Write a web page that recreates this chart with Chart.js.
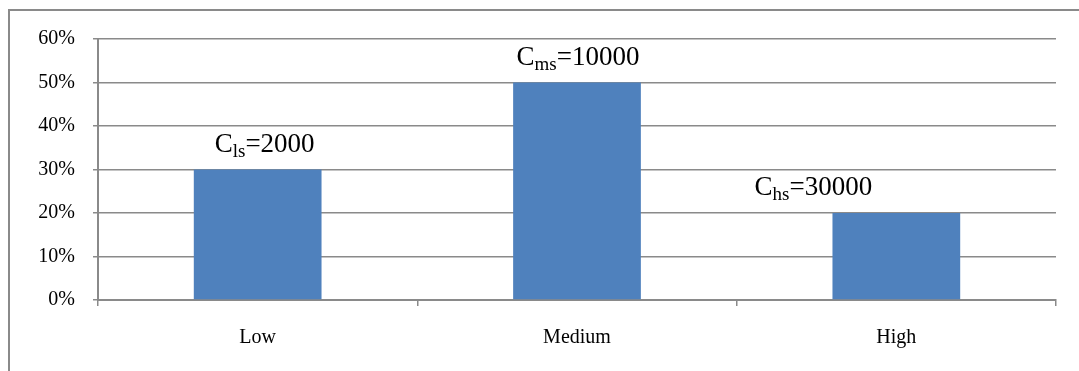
<!DOCTYPE html>
<html>
<head>
<meta charset="utf-8">
<script src="https://cdn.jsdelivr.net/npm/chart.js@4/dist/chart.umd.min.js"></script>
<style>
  body { margin: 0; background: #fff; overflow: hidden; }
  #cadre { position: absolute; left: 8px; top: 9px; width: 1200px; height: 500px; border: 2px solid #8a8a8a; }
  #graph { position: absolute; left: 0; top: 0; }
</style>
</head>
<body>
<div id="cadre"></div>
<canvas id="graph" width="1079" height="371"></canvas>
<script>
// donnees du graphique
const categories = ['Low', 'Medium', 'High'];
const valeurs = [0.30, 0.50, 0.20];
const etiquettes = [
    { sub: 'ls', val: '2000' },
    { sub: 'ms', val: '10000' },
    { sub: 'hs', val: '30000' }
];

// dessine C_xx=valeur au dessus des barres
const pluginEtiquettes = {
    id: 'etiquettes',
    afterDatasetsDraw(chart) {
        const ctx = chart.ctx;
        const decalage = [7, 1, -83]; // le label "High" est decale a gauche dans l'original
        const meta = chart.getDatasetMeta(0);
        ctx.save();
        ctx.fillStyle = '#000';
        ctx.textBaseline = 'alphabetic';
        meta.data.forEach((barre, i) => {
            const e = etiquettes[i];
            const grand = '27px "Liberation Serif", "Times New Roman", serif';
            const petit = '19px "Liberation Serif", "Times New Roman", serif';
            ctx.font = grand;
            const wC = ctx.measureText('C').width;
            const wVal = ctx.measureText('=' + e.val).width;
            ctx.font = petit;
            const wSub = ctx.measureText(e.sub).width;
            const total = wC + wSub + wVal;
            let x = barre.x + decalage[i] - total / 2;
            const y = barre.y - 18;
            ctx.font = grand;
            ctx.fillText('C', x, y);
            x += wC;
            ctx.font = petit;
            ctx.fillText(e.sub, x, y + 5);
            x += wSub;
            ctx.font = grand;
            ctx.fillText('=' + e.val, x, y);
        });
        ctx.restore();
    }
};

const gris = '#8a8a8a';
const police = { family: '"Liberation Serif", "Times New Roman", serif', size: 20 };

new Chart(document.getElementById('graph'), {
    type: 'bar',
    data: {
        labels: categories,
        datasets: [{
            data: valeurs,
            backgroundColor: '#4f81bd',
            borderWidth: 0,
            categoryPercentage: 1,
            barPercentage: 0.4
        }]
    },
    options: {
        responsive: false,
        animation: false,
        layout: { padding: { left: 0, right: 23, top: 39, bottom: 0 } },
        plugins: {
            legend: { display: false },
            tooltip: { enabled: false }
        },
        scales: {
            x: {
                offset: true,
                grid: {
                    offset: true,
                    drawOnChartArea: false,
                    drawTicks: true,
                    tickLength: 6,
                    color: gris,
                    lineWidth: 1.5
                },
                border: { color: gris, width: 2 },
                ticks: { color: '#000', font: police, padding: 20, maxRotation: 0 },
                afterFit(scale) { scale.height = 71; }
            },
            y: {
                min: 0,
                max: 0.6,
                grid: {
                    color: gris,
                    lineWidth: 1.5,
                    tickLength: 5
                },
                border: { color: gris, width: 2 },
                ticks: {
                    stepSize: 0.1,
                    color: '#000',
                    font: police,
                    padding: 18,
                    callback: v => Math.round(v * 100) + '%'
                },
                afterFit(scale) { scale.width = 98; }
            }
        }
    },
    plugins: [pluginEtiquettes]
});
</script>
</body>
</html>
